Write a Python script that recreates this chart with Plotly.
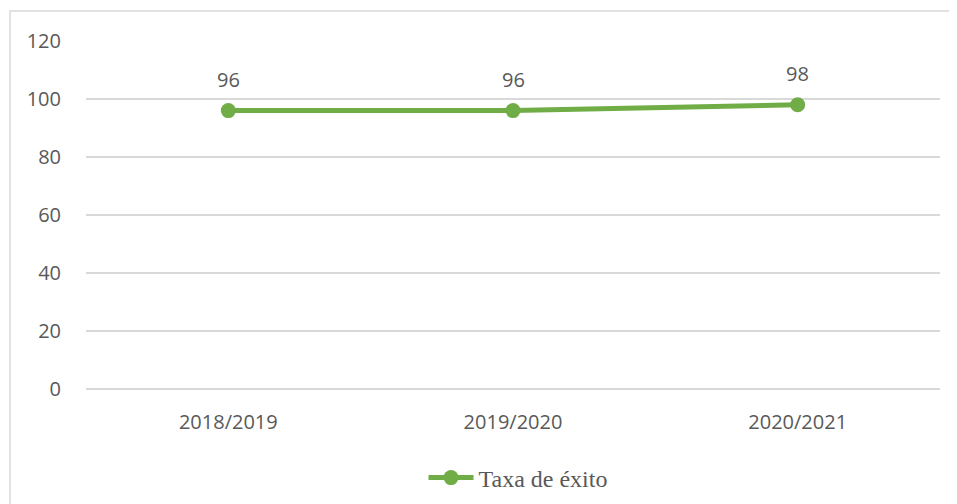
import plotly.graph_objects as go

categories = ["2018/2019", "2019/2020", "2020/2021"]
taxa_exito = [96, 96, 98]
series_name = "Taxa de éxito"
y_ticks = [0, 20, 40, 60, 80, 100, 120]

OFF = 8  # default page body margin
W, H = 957 - OFF, 504 - OFF
L, T = 86 - OFF, 41 - OFF
pw, ph = 854, 348
R, B = W - L - pw, H - T - ph

green = "#70ad47"
txt = "#595959"
grid = "#d9d9d9"

fig = go.Figure()
fig.add_trace(go.Scatter(
    x=categories, y=taxa_exito, name=series_name, mode="lines+markers",
    line=dict(color=green, width=5),
    marker=dict(color=green, size=15),
))

for c, v in zip(categories, taxa_exito):
    fig.add_annotation(x=c, y=v, text=str(v), showarrow=False, yshift=31,
                       font=dict(family="Open Sans", size=20, color=txt))

def px_x(p):
    return (p - OFF - L) / pw

def px_y(p):
    return (T + ph - (p - OFF)) / ph

fig.add_shape(type="rect", xref="paper", yref="paper",
              x0=px_x(10), x1=px_x(990), y0=px_y(530), y1=px_y(11),
              line=dict(color=grid, width=1.5), layer="below")

fig.update_layout(
    width=W, height=H,
    margin=dict(l=L, r=R, t=T, b=B, autoexpand=False),
    paper_bgcolor="white", plot_bgcolor="white",
    showlegend=True,
    legend=dict(orientation="h", xref="paper", x=px_x(518), xanchor="center",
                yref="container", y=1 - (478 - OFF) / H, yanchor="middle",
                font=dict(family="Liberation Serif", size=24, color=txt),
                itemwidth=45),
    xaxis=dict(type="category", range=[-0.5, 2.5], showgrid=False, zeroline=False,
               showline=False, ticks="", ticklabelstandoff=19, automargin=False,
               tickfont=dict(family="Open Sans", size=20, color=txt)),
    yaxis=dict(range=[0, 120], tickvals=y_ticks, showgrid=True, gridcolor=grid,
               gridwidth=1.5, zeroline=True, zerolinecolor=grid, zerolinewidth=1.5,
               showline=False, ticks="", automargin=False,
               tickfont=dict(family="Open Sans", size=20, color=txt), ticklabelstandoff=24),
)

fig.write_html("out.html")
